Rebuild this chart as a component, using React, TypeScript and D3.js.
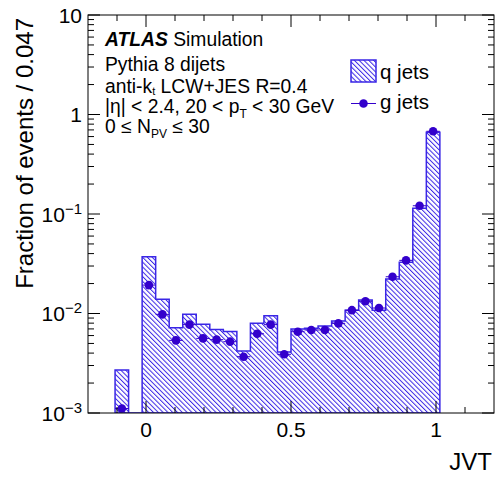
import React from "react";
import * as d3 from "d3";

const xDomain: [number, number] = [-0.2, 1.2];
const nBins = 30;
const yDomain: [number, number] = [1e-3, 10];

const qJets: number[] = [0, 0, 0.0027, 0, 0.0372, 0.0139, 0.0072, 0.0098, 0.0078, 0.0069, 0.0066, 0.0042, 0.008, 0.0095, 0.0041, 0.007, 0.0071, 0.0075, 0.0084, 0.0108, 0.0137, 0.0108, 0.0222, 0.0327, 0.114, 0.662, 0, 0, 0, 0];
const gJets: (number | null)[] = [null, null, 0.00111, null, 0.0193, 0.0098, 0.00537, 0.00773, 0.00562, 0.00546, 0.00521, 0.00368, 0.00626, 0.00773, 0.00389, 0.00656, 0.00683, 0.00683, 0.00796, 0.0108, 0.01327, 0.01135, 0.0234, 0.0342, 0.121, 0.678, null, null, null, null];

const xMajorTicks = [0, 0.5, 1];
const xTickLabels = ["0", "0.5", "1"];
const yMajorExp = [-3, -2, -1, 0, 1];

const W = 496, H = 478;
const L = 88, R = 494, T = 15, B = 413;
const HATCH = "#3a26e6";
const DOT = "#3300cc";
const FONT = "'Liberation Sans', Arial, Helvetica, sans-serif";
const INFO = 19.3;

export default function App() {
  const x = d3.scaleLinear().domain(xDomain).range([L, R]);
  const y = d3.scaleLog().domain(yDomain).range([B, T]);
  const bw = (xDomain[1] - xDomain[0]) / nBins;
  const lo = (i: number) => xDomain[0] + i * bw;

  const first = qJets.findIndex((v) => v > 0);
  let last = qJets.length - 1;
  while (last >= 0 && !(qJets[last] > 0)) last--;
  const yv = (v: number) => (v > 0 ? y(v) : B);
  let d = `M${x(lo(first))},${B}`;
  for (let i = first; i <= last; i++) {
    d += `L${x(lo(i))},${yv(qJets[i])}L${x(lo(i + 1))},${yv(qJets[i])}`;
  }
  d += `L${x(lo(last + 1))},${B}Z`;

  const xMinor = d3.range(-1, 12).map((k) => k / 10).filter((v) => !xMajorTicks.some((m) => Math.abs(m - v) < 1e-9));
  const yMinor: number[] = [];
  for (let e = -3; e < 1; e++) for (let m = 2; m <= 9; m++) yMinor.push(m * Math.pow(10, e));

  return (
    <svg width={W} height={H} style={{ position: "absolute", left: 0, top: 0, background: "#fff" }} fontFamily={FONT}>
      <defs>
        <pattern id="hatch" patternUnits="userSpaceOnUse" width={3.4} height={3.4} patternTransform="rotate(-45)">
          <line x1={0.5} y1={0} x2={0.5} y2={3.4} stroke={HATCH} strokeWidth={1} />
        </pattern>
        <clipPath id="frame"><rect x={L} y={T} width={R - L} height={B - T} /></clipPath>
      </defs>
      <rect x={0} y={0} width={W} height={H} fill="#fff" />
      <g clipPath="url(#frame)">
        <path d={d} fill="url(#hatch)" stroke={HATCH} strokeWidth={1.5} />
        {gJets.map((v, i) =>
          v == null ? null : (
            <g key={i}>
              <line x1={x(lo(i))} x2={x(lo(i + 1))} y1={y(v)} y2={y(v)} stroke={DOT} strokeWidth={1} />
              <circle cx={x(lo(i) + bw / 2)} cy={y(v)} r={4.3} fill={DOT} />
            </g>
          )
        )}
      </g>
      <rect x={L} y={T} width={R - L} height={B - T} fill="none" stroke="#000" strokeWidth={1} />
      {xMajorTicks.map((t) => (
        <g key={"xm" + t}>
          <line x1={x(t)} x2={x(t)} y1={B} y2={B - 12} stroke="#000" />
          <line x1={x(t)} x2={x(t)} y1={T} y2={T + 12} stroke="#000" />
        </g>
      ))}
      {xMinor.map((t) => (
        <g key={"xn" + t}>
          <line x1={x(t)} x2={x(t)} y1={B} y2={B - 6} stroke="#000" />
          <line x1={x(t)} x2={x(t)} y1={T} y2={T + 6} stroke="#000" />
        </g>
      ))}
      {xMajorTicks.map((t, i) => (
        <text key={"xl" + t} x={x(t)} y={437} textAnchor="middle" fontSize={21}>{xTickLabels[i]}</text>
      ))}
      {yMajorExp.map((e) => (
        <g key={"ym" + e}>
          <line x1={L} x2={L + 12} y1={y(Math.pow(10, e))} y2={y(Math.pow(10, e))} stroke="#000" />
          <line x1={R} x2={R - 12} y1={y(Math.pow(10, e))} y2={y(Math.pow(10, e))} stroke="#000" />
        </g>
      ))}
      {yMinor.map((t, i) => (
        <g key={"yn" + i}>
          <line x1={L} x2={L + 6} y1={y(t)} y2={y(t)} stroke="#000" />
          <line x1={R} x2={R - 6} y1={y(t)} y2={y(t)} stroke="#000" />
        </g>
      ))}
      {yMajorExp.map((e) => {
        const yy = y(Math.pow(10, e)) + 7.5;
        if (e === 0) return <text key={"yl" + e} x={82} y={yy} textAnchor="end" fontSize={21}>1</text>;
        if (e === 1) return <text key={"yl" + e} x={82} y={yy} textAnchor="end" fontSize={21}>10</text>;
        return (
          <text key={"yl" + e} x={82} y={yy} textAnchor="end" fontSize={21}>
            10<tspan dy={-8} fontSize={15}>{"\u2212" + (-e)}</tspan>
          </text>
        );
      })}
      <text transform={`translate(33,18) rotate(-90)`} textAnchor="end" fontSize={24}>Fraction of events / 0.047</text>
      <text x={492} y={470} textAnchor="end" fontSize={24}>JVT</text>
      <text x={105} y={46} fontSize={INFO}>
        <tspan fontWeight="bold" fontStyle="italic">ATLAS</tspan> Simulation
      </text>
      <text x={105} y={71} fontSize={INFO}>Pythia 8 dijets</text>
      <text x={105} y={92.5} fontSize={INFO}>
        anti-k<tspan dy={2.5} fontSize={11}>t</tspan><tspan dy={-2.5}> LCW+JES R=0.4</tspan>
      </text>
      <text x={105} y={113} fontSize={INFO}>
        |η| &lt; 2.4, 20 &lt; p<tspan dy={5} fontSize={12}>T</tspan><tspan dy={-5}> &lt; 30 GeV</tspan>
      </text>
      <text x={105} y={133} fontSize={INFO}>
        0 ≤ N<tspan dy={5} fontSize={12}>PV</tspan><tspan dy={-5}> ≤ 30</tspan>
      </text>
      <rect x={351} y={60} width={25} height={22} fill="url(#hatch)" stroke={HATCH} strokeWidth={1.5} />
      <text x={380} y={79} fontSize={20.5}>q jets</text>
      <line x1={351} x2={376} y1={103.5} y2={103.5} stroke={DOT} strokeWidth={1} />
      <circle cx={363.5} cy={103.5} r={4.3} fill={DOT} />
      <text x={380} y={109} fontSize={20.5}>g jets</text>
    </svg>
  );
}
